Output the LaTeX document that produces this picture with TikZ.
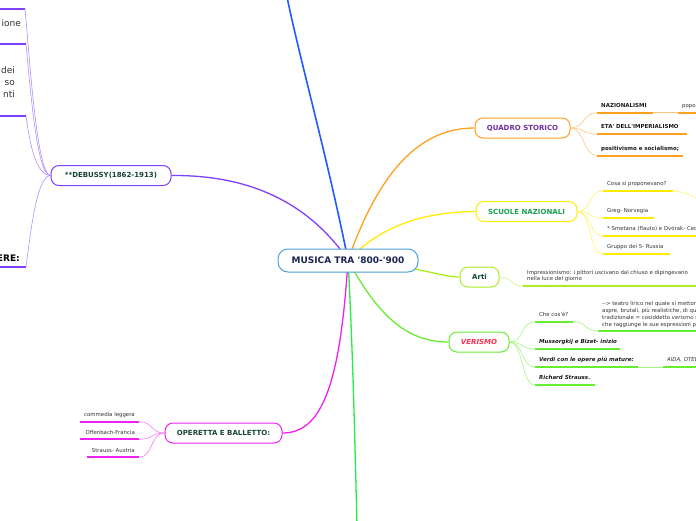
\documentclass[tikz,border=0pt]{standalone}
\usepackage{fontspec}
\setmainfont{DejaVu Sans}
\usepackage{xcolor}
\definecolor{root}{RGB}{74,160,221}
\definecolor{navy}{RGB}{26,38,80}
\definecolor{brBlue}{RGB}{34,90,255}
\definecolor{brPurp}{RGB}{128,64,255}
\definecolor{brOrng}{RGB}{255,160,32}
\definecolor{brYell}{RGB}{255,236,0}
\definecolor{brLime}{RGB}{170,238,34}
\definecolor{brGrn}{RGB}{102,238,51}
\definecolor{brDown}{RGB}{34,238,68}
\definecolor{brMag}{RGB}{238,34,238}
\definecolor{txPurp}{RGB}{112,48,160}
\definecolor{txGrn}{RGB}{26,160,80}
\definecolor{txDark}{RGB}{22,70,50}
\definecolor{txRed}{RGB}{255,48,80}
\usetikzlibrary{positioning,backgrounds}
\newcommand{\ap}{\textquotesingle}

\begin{document}
\begin{tikzpicture}[
  x=1pt, y=-1pt,
  topic/.style={draw, rounded corners=8pt, fill=white, line width=1pt, minimum height=20pt,
    inner sep=2pt, font=\fontsize{7}{8}\selectfont\bfseries, text=txDark},
  leaf/.style={anchor=south west, inner xsep=4pt, inner ysep=5pt, text depth=0pt, align=left,
    font=\fontsize{5.4}{6.7}\selectfont, text=black!80},
  leafR/.style={leaf, anchor=south east, align=right},
  bleaf/.style={leaf, font=\fontsize{5.5}{6.7}\selectfont\bfseries, text=black!90},
  ileaf/.style={leaf, font=\fontsize{5.5}{6.7}\selectfont\bfseries\itshape, text=black!90},
  bigleaf/.style={leafR, font=\fontsize{9}{12}\selectfont, inner ysep=17.5pt},
  branch/.style={line width=1.3pt},
  ul/.style={line width=2pt},
  lnk/.style={line width=0.6pt}]
\useasboundingbox (0,0) rectangle (696,520);
% central topic
\node[topic, draw=root, text=navy, rounded corners=10pt, minimum width=140pt, minimum height=23pt,
      font=\fontsize{9}{10}\selectfont\bfseries] (c) at (348,260.5) {MUSICA TRA \ap800-\ap900};
\coordinate (c0) at (348,260);
\coordinate (topB) at (287,-3);
\coordinate (botG) at (357,525);
% main topics
\node[topic, draw=brOrng, text=txPurp, minimum width=95pt] (qs) at (522.5,128) {QUADRO STORICO};
\node[topic, draw=brYell, text=txGrn, minimum width=101pt] (sn) at (526.5,211.5) {SCUOLE NAZIONALI};
\node[topic, draw=brLime, minimum width=39pt] (arti) at (479.5,277) {Arti};
\node[topic, draw=brGrn, text=txRed, minimum width=60pt,
      font=\fontsize{7}{8}\selectfont\bfseries\itshape] (ver) at (479,342) {VERISMO};
\node[topic, draw=brMag, minimum width=117pt] (op) at (223.5,433) {OPERETTA E BALLETTO:};
\node[topic, draw=brPurp, minimum width=120pt] (deb) at (111,175.5) {**DEBUSSY(1862-1913)};
% QUADRO STORICO
\node[bleaf] (naz) at (597,112.7) {NAZIONALISMI};
\node[leaf] (pop) at (678,112.7) {popolo};
\node[bleaf] (eta) at (597,134) {ETA\ap{} DELL\ap IMPERIALISMO};
\node[bleaf] (posi) at (597,155.5) {positivismo e socialismo;};
% SCUOLE NAZIONALI
\node[leaf] (cosa) at (603,190.7) {Cosa si proponevano?};
\coordinate (cosaX) at (722,206);
\node[leaf] (greg) at (603,218) {Greg- Norvegia};
\node[leaf] (sme) at (603,236) {* Smetana (flauto) e Dvórak- Cecoslovacchia};
\node[leaf] (grup) at (603,254) {Gruppo dei 5- Russia};
% Arti
\node[leaf] (imp) at (523,286) {Impressionismo: i pittori uscivano dal chiuso e dipingevano\\nella luce del giorno};
% VERISMO
\node[leaf] (che) at (535,321.7) {Che cos\ap è?};
\node[leaf, inner ysep=4.5pt] (tea) at (598,330.7) {-{}-{}> teatro lirico nel quale si mettono\\aspre, brutali, più realistiche, di quella\\tradizionale = cosiddetto \textit{verismo} musicale\\che raggiunge le sue espressioni più};
\node[ileaf] (mus) at (535,349) {Mussorgkij e Bizet- inizio};
\node[ileaf] (verdi) at (535,367) {Verdi con le opere più mature:};
\node[leaf, font=\fontsize{5.4}{6.7}\selectfont\itshape] (aida) at (663,367) {AIDA, OTELLO};
\node[ileaf] (ric) at (535,385) {Richard Strauss.};
% OPERETTA E BALLETTO
\node[leafR] (comm) at (139,421.7) {commedia leggera};
\node[leafR] (offb) at (139,439.3) {Offenbach-Francia};
\node[leafR] (strs) at (139,457.3) {Strauss- Austria};
% DEBUSSY
\coordinate (d0) at (25,9);
\node[bigleaf, inner xsep=5pt] (ion) at (26,44) {ione};
\node[bigleaf, inner xsep=11pt, inner ysep=18.5pt] (dei) at (26,116) {dei\\so\\nti};
\node[bigleaf, font=\fontsize{9}{12}\selectfont\bfseries, text=black, inner xsep=6pt, inner ysep=5.5pt] (ere) at (26,267) {ERE:};
\begin{scope}[on background layer]
% branches
\draw[branch, brBlue, line width=1.6pt] (c0) .. controls (328,160) and (300,60) .. (topB);
\draw[branch, brPurp] (c0) .. controls (300,190) and (230,175) .. (deb.east);
\draw[branch, brOrng] (c0) .. controls (380,170) and (420,128) .. (qs.west);
\draw[branch, brYell] (c0) .. controls (385,222) and (430,212) .. (sn.west);
\draw[branch, brLime] (c0) .. controls (420,266) and (440,277) .. (arti.west);
\draw[branch, brGrn] (c0) .. controls (380,320) and (410,342) .. (ver.west);
\draw[branch, brDown] (c0) .. controls (353,350) and (355,450) .. (botG);
\draw[branch, brMag] (c0) .. controls (340,390) and (320,433) .. (op.east);
% orange
\draw[lnk, brOrng!60] (qs.east) .. controls +(14,0) and +(-14,0) .. (naz.south west);
\draw[lnk, brOrng!60] (qs.east) .. controls +(14,0) and +(-14,0) .. (eta.south west);
\draw[lnk, brOrng!60] (qs.east) .. controls +(14,0) and +(-14,0) .. (posi.south west);
\draw[lnk, brOrng!60] (naz.south west) ++(56,0) -- (pop.south west);
\draw[ul, brOrng] (naz.south west) -- ++(56,0);
\draw[ul, brOrng] (pop.south west) -- ++(30,0);
\draw[ul, brOrng] (eta.south west) -- ++(90,0);
\draw[ul, brOrng] (posi.south west) -- ++(86,0);
% yellow
\draw[lnk, brYell!60] (sn.east) .. controls +(14,0) and +(-14,0) .. (cosa.south west);
\draw[lnk, brYell!60] (sn.east) .. controls +(14,0) and +(-14,0) .. (greg.south west);
\draw[lnk, brYell!60] (sn.east) .. controls +(14,0) and +(-14,0) .. (sme.south west);
\draw[lnk, brYell!60] (sn.east) .. controls +(14,0) and +(-14,0) .. (grup.south west);
\draw[lnk, brYell!60] (cosa.south west) ++(70,0) .. controls +(14,0) and +(-14,0) .. (cosaX);
\draw[ul, brYell] (cosa.south west) -- ++(70,0);
\draw[ul, brYell] (greg.south west) -- ++(51,0);
\draw[ul, brYell] (sme.south west) -- ++(120,0);
\draw[ul, brYell] (grup.south west) -- ++(67,0);
% lime
\draw[lnk, brLime!60] (arti.east) .. controls +(14,0) and +(-14,0) .. (imp.south west);
\draw[ul, brLime] (imp.south west) -- ++(200,0);
% green
\draw[lnk, brGrn!60] (ver.east) .. controls +(14,0) and +(-14,0) .. (che.south west);
\draw[lnk, brGrn!60] (ver.east) .. controls +(14,0) and +(-14,0) .. (mus.south west);
\draw[lnk, brGrn!60] (ver.east) .. controls +(14,0) and +(-14,0) .. (verdi.south west);
\draw[lnk, brGrn!60] (ver.east) .. controls +(14,0) and +(-14,0) .. (ric.south west);
\draw[lnk, brGrn!60] (che.south west) ++(38,0) .. controls +(14,0) and +(-14,0) .. (tea.south west);
\draw[lnk, brGrn!60] (verdi.south west) ++(103,0) -- (aida.south west);
\draw[ul, brGrn] (che.south west) -- ++(38,0);
\draw[ul, brGrn] (tea.south west) -- ++(120,0);
\draw[ul, brGrn] (mus.south west) -- ++(85,0);
\draw[ul, brGrn] (verdi.south west) -- ++(103,0);
\draw[ul, brGrn] (aida.south west) -- ++(50,0);
\draw[ul, brGrn] (ric.south west) -- ++(60,0);
% magenta
\draw[lnk, brMag!60] (op.west) .. controls +(-14,0) and +(14,0) .. (comm.south east);
\draw[lnk, brMag!60] (op.west) .. controls +(-14,0) and +(14,0) .. (offb.south east);
\draw[lnk, brMag!60] (op.west) .. controls +(-14,0) and +(14,0) .. (strs.south east);
\draw[ul, brMag] (comm.south east) -- ++(-59,0);
\draw[ul, brMag] (offb.south east) -- ++(-59,0);
\draw[ul, brMag] (strs.south east) -- ++(-52,0);
% purple
\draw[lnk, brPurp!60] (deb.west) .. controls +(-14,0) and +(4,40) .. (d0);
\draw[lnk, brPurp!60] (deb.west) .. controls +(-14,0) and +(4,40) .. (ion.south east);
\draw[lnk, brPurp!60] (deb.west) .. controls +(-14,0) and +(4,30) .. (dei.south east);
\draw[lnk, brPurp!60] (deb.west) .. controls +(-14,0) and +(4,-30) .. (ere.south east);
\draw[ul, brPurp] (d0) -- ++(-30,0);
\draw[ul, brPurp] (ion.south east) -- ++(-30,0);
\draw[ul, brPurp] (dei.south east) -- ++(-30,0);
\draw[ul, brPurp] (ere.south east) -- ++(-30,0);
\end{scope}
\end{tikzpicture}
\end{document}
